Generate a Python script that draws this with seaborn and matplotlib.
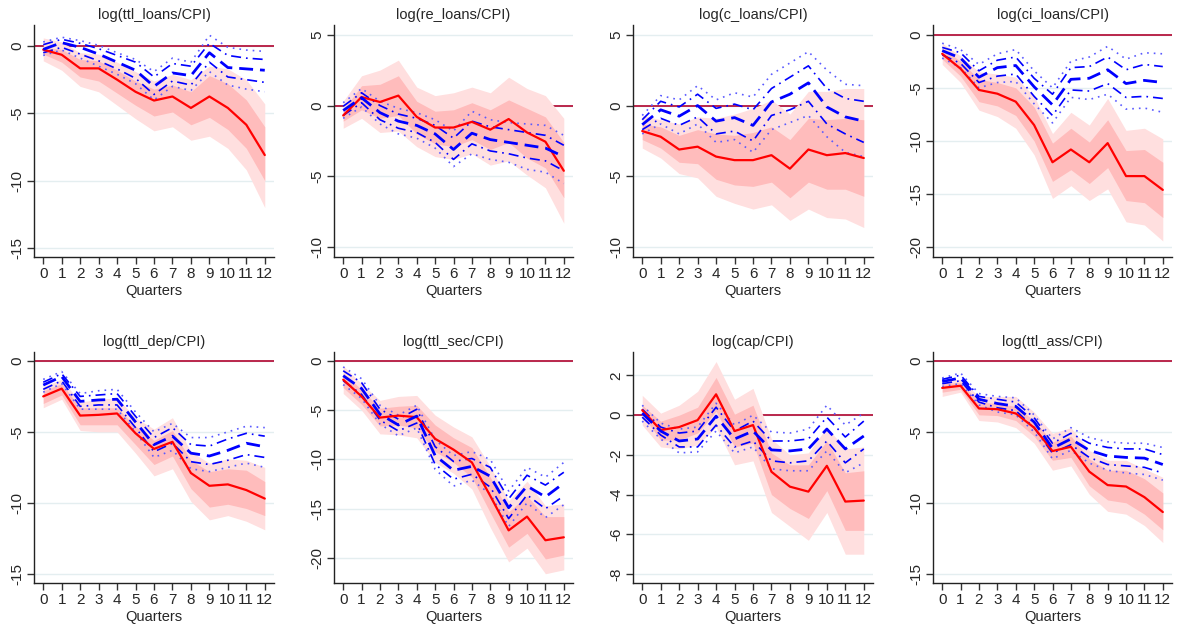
import matplotlib
matplotlib.use("Agg")
import matplotlib.pyplot as plt
import seaborn as sns

quarters = list(range(13))

# ---- log(ttl_loans/CPI)
tl_red = [-0.27, -0.65, -1.66, -1.66, -2.5, -3.4, -4.05, -3.75, -4.6, -3.75, -4.6, -5.85, -8.1]
tl_red_in_lo = [-0.6, -1.2, -2.3, -2.6, -3.5, -4.4, -5.2, -4.9, -5.85, -5.3, -6.2, -7.6, -10.0]
tl_red_in_hi = [-0.1, -0.25, -1.0, -1.1, -1.8, -2.6, -3.2, -2.9, -3.4, -2.2, -2.8, -4.0, -6.0]
tl_red_out_lo = [-1.1, -1.8, -3.0, -3.4, -4.4, -5.4, -6.3, -6.0, -7.0, -6.7, -7.6, -9.2, -12.0]
tl_red_out_hi = [0.6, 0.3, -0.5, -0.6, -1.2, -1.9, -2.6, -2.1, -2.5, -1.5, -1.7, -2.5, -4.3]
tl_blue = [-0.25, 0.25, -0.1, -0.6, -1.2, -1.8, -3.0, -2.0, -2.2, -0.5, -1.6, -1.7, -1.8]
tl_blue_in_lo = [-0.5, -0.1, -0.6, -1.1, -1.7, -2.4, -3.6, -2.6, -2.9, -1.2, -2.3, -2.5, -2.7]
tl_blue_in_hi = [0.1, 0.5, 0.2, -0.2, -0.7, -1.2, -2.3, -1.3, -1.5, 0.2, -0.7, -0.9, -1.0]
tl_blue_out_lo = [-0.7, -0.3, -0.9, -1.5, -2.1, -2.8, -4.0, -3.0, -3.3, -1.9, -2.9, -3.2, -3.4]
tl_blue_out_hi = [0.3, 0.65, 0.4, 0.05, -0.5, -1.0, -1.9, -0.9, -1.2, 0.8, -0.1, -0.3, -0.4]

# ---- log(re_loans/CPI)
rl_red = [-0.7, 0.6, 0.25, 0.7, -0.8, -1.55, -1.55, -1.15, -1.7, -0.95, -1.9, -2.55, -4.6]
rl_red_in_lo = [-1.1, -0.3, -0.9, -0.7, -2.0, -2.7, -2.9, -2.4, -3.1, -2.6, -3.7, -4.4, -6.5]
rl_red_in_hi = [-0.3, 1.4, 1.5, 2.1, 0.3, -0.4, -0.3, 0.2, -0.3, 0.4, -0.2, -0.8, -2.6]
rl_red_out_lo = [-1.6, -0.9, -1.9, -1.8, -2.9, -3.6, -3.8, -3.4, -4.2, -3.9, -4.9, -5.8, -8.3]
rl_red_out_hi = [0.3, 2.1, 2.5, 3.2, 1.3, 0.7, 0.9, 1.3, 0.9, 2.0, 1.2, 0.7, -0.9]
rl_blue = [-0.35, 0.55, -0.5, -1.1, -1.4, -2.0, -3.1, -1.95, -2.4, -2.6, -2.8, -3.0, -3.6]
rl_blue_in_lo = [-0.7, 0.2, -1.0, -1.6, -1.9, -2.6, -3.8, -2.7, -3.2, -3.4, -3.7, -3.9, -4.6]
rl_blue_in_hi = [-0.05, 0.9, 0.0, -0.6, -0.9, -1.4, -2.3, -1.1, -1.5, -1.7, -1.9, -2.1, -2.8]
rl_blue_out_lo = [-0.9, -0.1, -1.3, -2.0, -2.3, -3.0, -4.3, -3.4, -3.8, -4.0, -4.5, -4.7, -5.5]
rl_blue_out_hi = [0.2, 1.2, 0.3, -0.2, -0.5, -1.0, -1.8, -0.4, -1.0, -1.2, -1.3, -1.4, -2.1]

# ---- log(c_loans/CPI)
cl_red = [-1.8, -2.2, -3.1, -2.9, -3.6, -3.85, -3.85, -3.5, -4.45, -3.1, -3.5, -3.35, -3.7]
cl_red_in_lo = [-2.4, -3.0, -4.0, -4.1, -5.2, -5.6, -5.7, -5.4, -6.5, -5.4, -5.9, -5.9, -6.4]
cl_red_in_hi = [-1.3, -1.5, -2.1, -1.7, -2.0, -2.1, -1.9, -1.5, -2.4, -0.9, -1.0, -0.9, -1.0]
cl_red_out_lo = [-3.0, -3.7, -4.8, -5.1, -6.4, -6.9, -7.3, -7.0, -8.1, -7.3, -7.9, -8.0, -8.6]
cl_red_out_hi = [-0.7, -1.0, -1.3, -0.8, -0.9, -0.6, -0.2, 0.4, -0.6, 1.0, 1.0, 1.2, 1.2]
cl_blue = [-1.35, -0.3, -0.75, 0.0, -1.1, -0.85, -1.4, 0.25, 0.8, 1.6, -0.1, -0.8, -1.1]
cl_blue_in_lo = [-1.7, -0.9, -1.4, -0.8, -2.0, -1.8, -2.5, -0.7, -0.3, 0.3, -1.3, -2.0, -2.6]
cl_blue_in_hi = [-1.0, 0.3, -0.1, 0.8, -0.2, 0.1, -0.3, 1.2, 2.0, 2.8, 1.2, 0.5, 0.3]
cl_blue_out_lo = [-2.0, -1.3, -2.0, -1.3, -2.6, -2.4, -3.3, -1.7, -1.2, -0.7, -2.2, -3.3, -3.6]
cl_blue_out_hi = [-0.7, 0.7, 0.4, 1.4, 0.4, 0.9, 0.6, 2.2, 3.0, 3.8, 2.5, 1.5, 1.4]

# ---- log(ci_loans/CPI)
ci_red = [-1.8, -3.2, -5.2, -5.55, -6.3, -8.5, -12.0, -10.8, -12.0, -10.2, -13.3, -13.3, -14.6]
ci_red_in_lo = [-2.3, -3.9, -6.3, -6.7, -7.6, -10.0, -13.8, -12.7, -14.0, -12.5, -15.6, -15.8, -17.2]
ci_red_in_hi = [-1.3, -2.5, -4.2, -4.5, -5.0, -6.8, -10.2, -8.8, -10.1, -8.0, -10.9, -10.8, -12.0]
ci_red_out_lo = [-2.8, -4.5, -7.1, -7.7, -8.8, -11.3, -15.4, -14.2, -15.6, -14.5, -17.6, -17.9, -19.4]
ci_red_out_hi = [-0.8, -2.0, -3.5, -3.7, -4.0, -5.8, -9.3, -7.3, -8.5, -6.0, -9.0, -8.8, -9.8]
ci_blue = [-1.5, -2.2, -4.0, -3.1, -2.9, -4.9, -6.6, -4.2, -4.1, -3.3, -4.6, -4.3, -4.5]
ci_blue_in_lo = [-1.9, -2.7, -4.5, -3.9, -3.7, -5.8, -7.6, -5.2, -5.3, -4.6, -5.9, -5.8, -6.0]
ci_blue_in_hi = [-1.2, -1.7, -3.4, -2.4, -2.1, -4.1, -5.6, -3.1, -3.0, -2.1, -3.3, -2.8, -3.0]
ci_blue_out_lo = [-2.2, -3.1, -5.0, -4.5, -4.4, -6.5, -8.3, -5.9, -6.1, -5.6, -7.0, -6.9, -7.3]
ci_blue_out_hi = [-0.8, -1.4, -2.8, -1.8, -1.4, -3.4, -5.0, -2.5, -2.1, -1.1, -2.3, -1.7, -1.8]

# ---- log(ttl_dep/CPI)
td_red = [-2.5, -1.95, -3.85, -3.8, -3.7, -5.1, -6.2, -5.7, -7.9, -8.8, -8.7, -9.1, -9.7]
td_red_in_lo = [-3.0, -2.4, -4.5, -4.5, -4.5, -5.9, -7.3, -6.7, -9.0, -10.3, -10.1, -10.4, -10.9]
td_red_in_hi = [-2.1, -1.6, -3.3, -3.3, -3.3, -4.6, -5.6, -4.9, -7.0, -7.8, -7.6, -7.7, -8.5]
td_red_out_lo = [-3.3, -2.7, -4.9, -5.0, -5.0, -6.5, -8.1, -7.6, -9.9, -11.2, -10.9, -11.3, -11.9]
td_red_out_hi = [-1.8, -1.3, -2.9, -2.7, -2.6, -4.0, -4.8, -4.0, -6.4, -7.2, -6.9, -7.0, -7.5]
td_blue = [-1.7, -1.1, -2.85, -2.75, -2.7, -4.3, -5.9, -5.3, -6.5, -6.7, -6.3, -5.8, -6.05]
td_blue_in_lo = [-2.0, -1.4, -3.2, -3.1, -3.1, -4.7, -6.4, -5.8, -7.1, -7.3, -7.0, -6.6, -6.8]
td_blue_in_hi = [-1.5, -0.9, -2.5, -2.4, -2.3, -3.9, -5.4, -4.7, -5.9, -6.0, -5.5, -5.1, -5.3]
td_blue_out_lo = [-2.2, -1.6, -3.4, -3.4, -3.4, -5.0, -6.8, -6.3, -7.6, -7.8, -7.5, -7.2, -7.5]
td_blue_out_hi = [-1.3, -0.75, -2.3, -2.1, -2.0, -3.6, -5.0, -4.4, -5.4, -5.4, -5.0, -4.6, -4.7]

# ---- log(ttl_sec/CPI)
ts_red = [-1.9, -3.6, -5.75, -5.55, -5.7, -7.9, -9.0, -10.3, -13.7, -17.2, -15.8, -18.2, -17.9]
ts_red_in_lo = [-2.7, -4.4, -6.6, -6.5, -6.8, -9.2, -10.3, -11.8, -15.4, -18.9, -17.5, -20.1, -19.7]
ts_red_in_hi = [-1.2, -2.9, -4.8, -4.6, -4.5, -6.5, -7.8, -8.8, -11.8, -15.3, -13.7, -15.8, -15.8]
ts_red_out_lo = [-3.3, -5.0, -7.4, -7.5, -7.8, -10.3, -11.4, -13.0, -16.9, -20.4, -19.0, -21.6, -21.2]
ts_red_out_hi = [-0.5, -2.3, -4.0, -3.6, -3.5, -5.5, -6.7, -7.7, -10.7, -14.2, -12.2, -14.7, -14.5]
ts_blue = [-1.5, -2.8, -5.4, -6.5, -5.6, -9.6, -11.1, -10.7, -11.7, -14.9, -12.7, -13.8, -12.4]
ts_blue_in_lo = [-2.0, -3.4, -6.0, -7.1, -6.3, -10.5, -12.0, -11.5, -12.8, -16.0, -13.6, -15.0, -13.7]
ts_blue_in_hi = [-1.0, -2.2, -4.9, -5.9, -4.9, -8.7, -10.2, -9.9, -10.8, -14.0, -11.6, -12.6, -11.3]
ts_blue_out_lo = [-2.4, -3.8, -6.4, -7.6, -6.8, -11.0, -12.7, -12.1, -13.5, -16.8, -14.4, -15.9, -14.6]
ts_blue_out_hi = [-0.6, -1.8, -4.5, -5.5, -4.5, -8.0, -9.6, -9.2, -10.0, -13.2, -10.8, -11.8, -10.3]

# ---- log(cap/CPI)
cp_red = [0.25, -0.75, -0.6, -0.25, 1.05, -0.8, -0.5, -2.85, -3.6, -3.85, -2.55, -4.35, -4.3]
cp_red_in_lo = [0.0, -1.25, -1.25, -0.9, 0.2, -1.6, -1.4, -4.0, -4.7, -5.2, -3.8, -5.8, -5.8]
cp_red_in_hi = [0.5, -0.3, 0.0, 0.4, 1.9, 0.05, 0.5, -1.9, -2.5, -2.5, -1.3, -2.9, -2.8]
cp_red_out_lo = [-0.5, -1.6, -1.7, -1.5, -0.6, -2.5, -2.3, -4.9, -5.6, -6.3, -4.9, -7.0, -7.0]
cp_red_out_hi = [1.0, 0.1, 0.5, 1.2, 2.7, 0.8, 1.35, -1.2, -2.0, -1.9, -0.6, -1.7, -1.6]
cp_blue = [0.1, -0.8, -1.3, -1.2, -0.05, -1.2, -0.8, -1.75, -1.8, -1.7, -0.7, -1.7, -1.05]
cp_blue_in_lo = [-0.1, -1.0, -1.6, -1.6, -0.5, -1.6, -1.3, -2.3, -2.4, -2.3, -1.3, -2.4, -1.7]
cp_blue_in_hi = [0.3, -0.6, -0.9, -0.8, 0.4, -0.8, -0.3, -1.3, -1.3, -1.2, -0.1, -1.1, -0.3]
cp_blue_out_lo = [-0.3, -1.2, -1.9, -1.85, -0.8, -1.9, -1.6, -2.7, -2.8, -2.8, -1.8, -2.9, -2.4]
cp_blue_out_hi = [0.5, -0.4, -0.7, -0.6, 0.6, -0.5, 0.0, -0.85, -0.9, -0.7, 0.5, -0.5, 0.1]

# ---- log(ttl_ass/CPI)
ta_red = [-1.9, -1.75, -3.35, -3.4, -3.7, -4.7, -6.35, -6.05, -7.8, -8.75, -8.85, -9.6, -10.65]
ta_red_in_lo = [-2.2, -2.0, -3.8, -3.85, -4.2, -5.3, -7.0, -6.8, -8.8, -9.8, -10.0, -10.8, -11.9]
ta_red_in_hi = [-1.6, -1.5, -2.9, -3.0, -3.2, -4.2, -5.7, -5.3, -6.9, -7.7, -7.7, -8.3, -9.3]
ta_red_out_lo = [-2.5, -2.2, -4.2, -4.3, -4.7, -5.8, -7.7, -7.4, -9.4, -10.6, -10.8, -11.6, -12.8]
ta_red_out_hi = [-1.4, -1.3, -2.5, -2.5, -2.5, -3.6, -5.1, -4.7, -6.3, -7.0, -7.0, -7.6, -8.2]
ta_blue = [-1.45, -1.2, -2.7, -3.0, -3.2, -4.3, -6.15, -5.5, -6.3, -6.7, -6.8, -6.85, -7.3]
ta_blue_in_lo = [-1.6, -1.4, -2.9, -3.3, -3.5, -4.7, -6.5, -5.9, -6.8, -7.3, -7.4, -7.5, -7.9]
ta_blue_in_hi = [-1.3, -1.0, -2.5, -2.7, -2.9, -4.0, -5.8, -5.1, -5.8, -6.1, -6.2, -6.2, -6.6]
ta_blue_out_lo = [-1.8, -1.6, -3.1, -3.6, -3.8, -5.0, -6.9, -6.3, -7.2, -7.7, -7.9, -8.0, -8.4]
ta_blue_out_hi = [-1.2, -0.85, -2.3, -2.5, -2.6, -3.8, -5.5, -4.7, -5.4, -5.7, -5.8, -5.8, -6.1]

titles = ["log(ttl_loans/CPI)", "log(re_loans/CPI)", "log(c_loans/CPI)", "log(ci_loans/CPI)",
          "log(ttl_dep/CPI)", "log(ttl_sec/CPI)", "log(cap/CPI)", "log(ttl_ass/CPI)"]
yticks = [[0, -5, -10, -15], [5, 0, -5, -10], [5, 0, -5, -10], [0, -5, -10, -15, -20],
          [0, -5, -10, -15], [0, -5, -10, -15, -20], [2, 0, -2, -4, -6, -8], [0, -5, -10, -15]]
ylims = [(-15.67, 1.56), (-10.68, 5.68), (-10.68, 5.68), (-20.91, 0.91),
         (-15.65, 0.63), (-22.54, 0.91), (-8.45, 3.18), (-15.65, 0.63)]

panels = [
    (tl_red, tl_red_in_lo, tl_red_in_hi, tl_red_out_lo, tl_red_out_hi,
     tl_blue, tl_blue_in_lo, tl_blue_in_hi, tl_blue_out_lo, tl_blue_out_hi),
    (rl_red, rl_red_in_lo, rl_red_in_hi, rl_red_out_lo, rl_red_out_hi,
     rl_blue, rl_blue_in_lo, rl_blue_in_hi, rl_blue_out_lo, rl_blue_out_hi),
    (cl_red, cl_red_in_lo, cl_red_in_hi, cl_red_out_lo, cl_red_out_hi,
     cl_blue, cl_blue_in_lo, cl_blue_in_hi, cl_blue_out_lo, cl_blue_out_hi),
    (ci_red, ci_red_in_lo, ci_red_in_hi, ci_red_out_lo, ci_red_out_hi,
     ci_blue, ci_blue_in_lo, ci_blue_in_hi, ci_blue_out_lo, ci_blue_out_hi),
    (td_red, td_red_in_lo, td_red_in_hi, td_red_out_lo, td_red_out_hi,
     td_blue, td_blue_in_lo, td_blue_in_hi, td_blue_out_lo, td_blue_out_hi),
    (ts_red, ts_red_in_lo, ts_red_in_hi, ts_red_out_lo, ts_red_out_hi,
     ts_blue, ts_blue_in_lo, ts_blue_in_hi, ts_blue_out_lo, ts_blue_out_hi),
    (cp_red, cp_red_in_lo, cp_red_in_hi, cp_red_out_lo, cp_red_out_hi,
     cp_blue, cp_blue_in_lo, cp_blue_in_hi, cp_blue_out_lo, cp_blue_out_hi),
    (ta_red, ta_red_in_lo, ta_red_in_hi, ta_red_out_lo, ta_red_out_hi,
     ta_blue, ta_blue_in_lo, ta_blue_in_hi, ta_blue_out_lo, ta_blue_out_hi),
]

sns.set_style("white")
plt.rcParams["font.family"] = ["Liberation Sans", "DejaVu Sans"]

W, H = 1177, 624
fig = plt.figure(figsize=(W / 100, H / 100), dpi=100)

# panel boxes in pixels: left, top, right, bottom
col_lr = [(34, 274), (334, 573), (633, 873), (933, 1172)]
row_tb = [(25, 257), (352, 583)]

for i, p in enumerate(panels):
    r, c = divmod(i, 4)
    l, rr = col_lr[c]
    t, b = row_tb[r]
    ax = fig.add_axes([l / W, 1 - b / H, (rr - l) / W, (b - t) / H])
    red, rin_lo, rin_hi, rout_lo, rout_hi, blue, bin_lo, bin_hi, bout_lo, bout_hi = p

    for yv in yticks[i]:
        ax.axhline(yv, color="#e4eef0", lw=1.0, zorder=0)
    ax.axhline(0, color="#b5163e", lw=1.3, zorder=1)

    ax.fill_between(quarters, rout_lo, rout_hi, color="#ffdfdf", lw=0, zorder=2)
    ax.fill_between(quarters, rin_lo, rin_hi, color="#ffbcbc", lw=0, zorder=3)

    sns.lineplot(x=quarters, y=bout_hi, ax=ax, color="#5a5aff", lw=1.2,
                 linestyle=(0, (1, 3)), zorder=4)
    sns.lineplot(x=quarters, y=bout_lo, ax=ax, color="#5a5aff", lw=1.2,
                 linestyle=(0, (1, 3)), zorder=4)
    sns.lineplot(x=quarters, y=bin_hi, ax=ax, color="#0000ff", lw=1.2,
                 linestyle=(0, (6, 3, 1, 3)), zorder=5)
    sns.lineplot(x=quarters, y=bin_lo, ax=ax, color="#0000ff", lw=1.2,
                 linestyle=(0, (6, 3, 1, 3)), zorder=5)
    sns.lineplot(x=quarters, y=red, ax=ax, color="#ff0000", lw=1.6, zorder=6)
    sns.lineplot(x=quarters, y=blue, ax=ax, color="#0000ff", lw=2.0,
                 linestyle=(0, (5, 2.5)), zorder=7)

    ax.set_xlim(-0.5, 12.5)
    ax.set_ylim(*ylims[i])
    ax.set_xticks(quarters)
    ax.set_yticks(yticks[i])
    ax.set_yticklabels([str(v) for v in yticks[i]], rotation=90, va="center")
    ax.tick_params(axis="both", labelsize=11, length=5, width=1, color="#333333",
                   direction="out", pad=2, left=True, bottom=True)
    for s in ["top", "right"]:
        ax.spines[s].set_visible(False)
    for s in ["left", "bottom"]:
        ax.spines[s].set_color("#222222")
        ax.spines[s].set_linewidth(1.0)
    ax.set_title(titles[i], fontsize=10.5, pad=4)
    ax.set_xlabel("Quarters", fontsize=10.5, labelpad=2)
    ax.set_ylabel("")

fig.savefig("out.png", dpi=100, facecolor="white")
